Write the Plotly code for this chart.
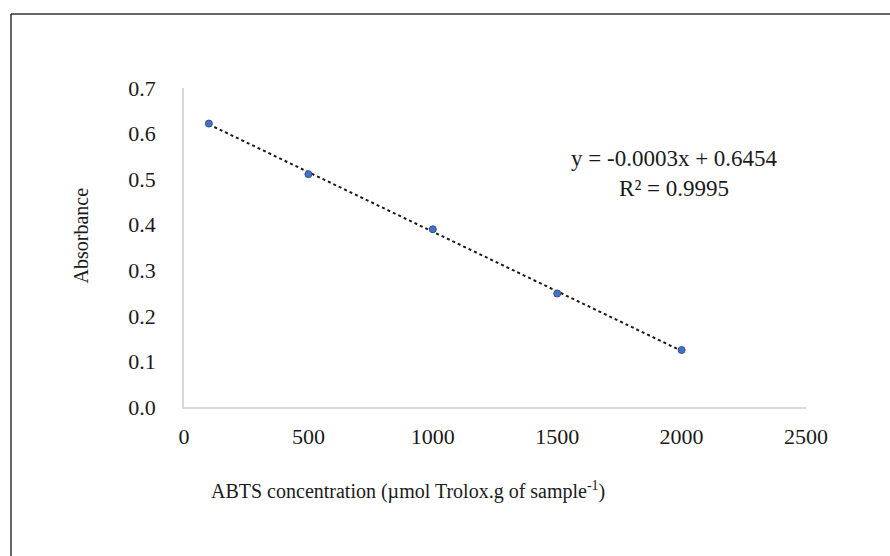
import numpy as np
import plotly.graph_objects as go

# Data
concentration = [100, 500, 1000, 1500, 2000]
absorbance = [0.622, 0.511, 0.390, 0.249, 0.125]
x_ticks = [0, 500, 1000, 1500, 2000, 2500]
y_ticks = [0.0, 0.1, 0.2, 0.3, 0.4, 0.5, 0.6, 0.7]
equation_text = "y = -0.0003x + 0.6454<br>R² = 0.9995"
x_title = "ABTS concentration (µmol Trolox.g of sample<sup>-1</sup>)"
y_title = "Absorbance"

# Linear trendline fitted to the data
slope, intercept = np.polyfit(concentration, absorbance, 1)
trend_x = [min(concentration), max(concentration)]
trend_y = [slope * v + intercept for v in trend_x]

FONT = "Liberation Serif, Times New Roman, serif"

fig = go.Figure()
fig.add_trace(go.Scatter(
    x=trend_x, y=trend_y, mode="lines",
    line=dict(color="#1a1a1a", width=2, dash="dot"),
    hoverinfo="skip", showlegend=False,
))
fig.add_trace(go.Scatter(
    x=concentration, y=absorbance, mode="markers",
    marker=dict(size=7, color="#4472C4", line=dict(color="#2F528F", width=1)),
    showlegend=False, cliponaxis=False,
))

fig.update_layout(
    width=890, height=556,
    margin=dict(l=184, r=84, t=88, b=149),
    paper_bgcolor="white", plot_bgcolor="white",
    font=dict(family=FONT, size=20, color="#1a1a1a"),
    xaxis=dict(
        range=[0, 2500], tickvals=x_ticks, ticktext=[str(v) for v in x_ticks],
        showgrid=False, zeroline=False, showline=True, linecolor="#d9d9d9", linewidth=1.5,
        ticks="outside", ticklen=9, tickcolor="rgba(0,0,0,0)",
        tickfont=dict(family=FONT, size=22, color="#1a1a1a"),
    ),
    yaxis=dict(
        range=[0, 0.7], tickvals=y_ticks, ticktext=[f"{v:.1f}" for v in y_ticks],
        showgrid=False, zeroline=False, showline=True, linecolor="#d9d9d9", linewidth=1.5,
        ticks="outside", ticklen=22, tickcolor="rgba(0,0,0,0)",
        tickfont=dict(family=FONT, size=22, color="#1a1a1a"),
    ),
    annotations=[
        dict(text=equation_text, x=0.788, y=0.733, xref="paper", yref="paper",
             xanchor="center", yanchor="middle", align="center", showarrow=False,
             font=dict(family=FONT, size=23, color="#1a1a1a")),
        dict(text=x_title, x=0.36, y=-0.263, xref="paper", yref="paper",
             xanchor="center", yanchor="middle", showarrow=False,
             font=dict(family=FONT, size=20, color="#1a1a1a")),
        dict(text=y_title, x=-0.1656, y=0.5376, xref="paper", yref="paper",
             xanchor="center", yanchor="middle", textangle=-90, showarrow=False,
             font=dict(family=FONT, size=20, color="#1a1a1a")),
    ],
    shapes=[
        dict(type="line", xref="paper", yref="paper",
             x0=(11 - 184) / 622, x1=(11 - 184) / 622, y0=(407 - 14) / 319, y1=(407 - 560) / 319,
             line=dict(color="#333333", width=1.5)),
        dict(type="line", xref="paper", yref="paper",
             x0=(11 - 184) / 622, x1=(895 - 184) / 622, y0=(407 - 14) / 319, y1=(407 - 14) / 319,
             line=dict(color="#333333", width=1.5)),
    ],
)

fig.write_html("out.html")
